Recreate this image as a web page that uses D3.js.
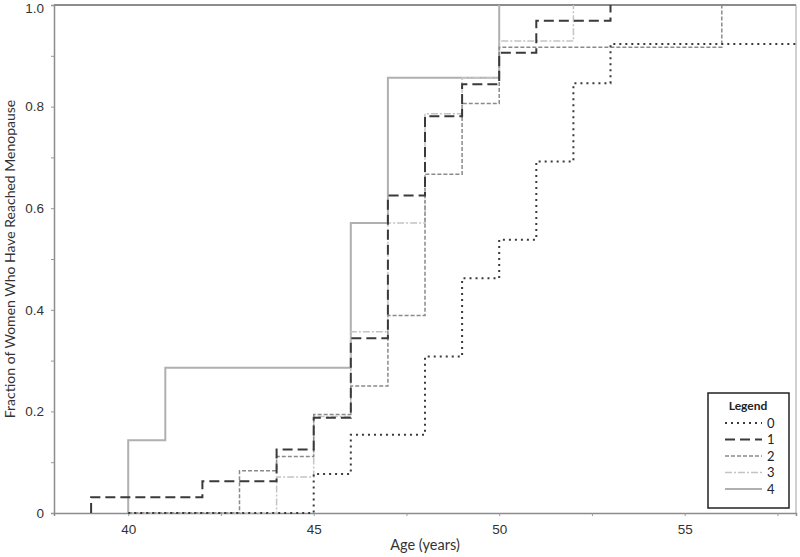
<!DOCTYPE html>
<html>
<head>
<meta charset="utf-8">
<script src="https://cdn.jsdelivr.net/npm/d3@7"></script>
<style>
body { margin: 0; background: #fff; }
svg { font-family: Lato, "Open Sans", sans-serif; }
</style>
</head>
<body>
<div id="chart"></div>
<script>
// step data: age at each step, fraction reached after it
var groups = ["0", "1", "2", "3", "4"];
var ages0 = [40, 45, 46, 48, 49, 50, 51, 52, 53, 58];
var vals0 = [0, 0.077, 0.154, 0.308, 0.462, 0.538, 0.692, 0.846, 0.923, 0.923];
var ages1 = [39, 39, 42, 44, 45, 46, 47, 48, 49, 50, 51, 53];
var vals1 = [0, 0.031, 0.0625, 0.125, 0.1875, 0.344, 0.625, 0.781, 0.844, 0.906, 0.969, 1.0];
var ages2 = [40, 43, 44, 45, 46, 47, 48, 49, 50, 56];
var vals2 = [0, 0.083, 0.111, 0.194, 0.25, 0.389, 0.667, 0.806, 0.917, 1.0];
var ages3 = [40, 44, 45, 46, 47, 48, 49, 50, 52];
var vals3 = [0, 0.071, 0.19, 0.357, 0.571, 0.786, 0.857, 0.929, 1.0];
var ages4 = [40, 40, 41, 46, 47, 50];
var vals4 = [0, 0.143, 0.286, 0.571, 0.857, 1.0];
var xLabels = [40, 45, 50, 55];
var yLabels = [0, 0.2, 0.4, 0.6, 0.8, 1.0];

var allAges = [ages0, ages1, ages2, ages3, ages4];
var allVals = [vals0, vals1, vals2, vals3, vals4];

var W = 800, H = 557;
var margin = {top: 5, right: 4, bottom: 44, left: 54};
var width = W - margin.left - margin.right;
var height = H - margin.top - margin.bottom;

var svg = d3.select("#chart").append("svg").attr("width", W).attr("height", H);
var g = svg.append("g").attr("transform", "translate(" + margin.left + "," + margin.top + ")");

var x = d3.scaleLinear().domain([38, 58]).range([0, width]);
var y = d3.scaleLinear().domain([0, 1]).range([height, 0]);

var styles = [
  {color: "#3a3a3a", dash: "2,4", w: 2},
  {color: "#3a3a3a", dash: "10,5", w: 2},
  {color: "#8a8a8a", dash: "4,2", w: 1.5},
  {color: "#c4c4c4", dash: "7,2,2,2", w: 1.5},
  {color: "#b0b0b0", dash: null, w: 2}
];

// frame (top / right)
g.append("line").attr("x1", 0).attr("x2", width).attr("y1", 0).attr("y2", 0)
  .attr("stroke", "#8c8c8c").attr("stroke-width", 2);
g.append("line").attr("x1", width).attr("x2", width).attr("y1", 0).attr("y2", height)
  .attr("stroke", "#a0a0a0").attr("stroke-width", 1);

// axes
var xAxis = g.append("g").attr("transform", "translate(0," + height + ")")
  .call(d3.axisBottom(x).tickValues(d3.range(40, 58.1, 2.5)).tickSize(3)
    .tickFormat(function(d) { return xLabels.indexOf(d) >= 0 ? d : ""; }));
var yAxis = g.append("g")
  .call(d3.axisLeft(y).tickValues(d3.range(0, 1.01, 0.1)).tickSize(3)
    .tickFormat(function(d) {
      var r = Math.round(d * 10) / 10;
      if (!yLabels.some(function(v) { return Math.abs(v - r) < 1e-6; })) return "";
      return r === 0 ? "0" : r.toFixed(1);
    }));
[xAxis, yAxis].forEach(function(a) {
  a.select(".domain").attr("stroke", "#8c8c8c").attr("stroke-width", 1.5);
  a.selectAll(".tick line").attr("stroke", "#999");
  a.selectAll(".tick text").attr("fill", "#333").style("font-size", "13.5px");
});
xAxis.selectAll(".tick text").attr("dy", "1.1em");
yAxis.selectAll(".tick text").attr("dx", "-0.3em")
  .attr("dy", function(d) { return d > 0.95 ? "0.55em" : "0.32em"; });

// axis titles
svg.append("text").attr("x", margin.left + width / 2).attr("y", 550)
  .attr("text-anchor", "middle").attr("fill", "#333").style("font-size", "14.5px").text("Age (years)");
svg.append("text").attr("transform", "translate(15," + (margin.top + height / 2) + ") rotate(-90)")
  .attr("text-anchor", "middle").attr("fill", "#333").style("font-size", "14px")
  .text("Fraction of Women Who Have Reached Menopause");

// step curves
var line = d3.line().curve(d3.curveStepAfter)
  .x(function(d) { return x(d[0]); }).y(function(d) { return y(d[1]); });
var order = [4, 3, 2, 0, 1];
order.forEach(function(i) {
  var pts = allAges[i].map(function(a, j) { return [a, allVals[i][j]]; });
  g.append("path").datum(pts).attr("d", line).attr("fill", "none")
    .attr("stroke", styles[i].color).attr("stroke-width", styles[i].w)
    .attr("stroke-dasharray", styles[i].dash);
});

// legend
var lg = svg.append("g").attr("transform", "translate(708,393)");
lg.append("rect").attr("width", 81).attr("height", 115).attr("fill", "#fff")
  .attr("stroke", "#222").attr("stroke-width", 1.5);
lg.append("text").attr("x", 40).attr("y", 17).attr("text-anchor", "middle")
  .style("font-size", "12px").style("font-weight", "bold").attr("fill", "#222").text("Legend");
var item = lg.selectAll(".item").data(groups).enter().append("g")
  .attr("transform", function(d, i) { return "translate(0," + (30 + i * 16.5) + ")"; });
item.append("line").attr("x1", 17).attr("x2", 54).attr("y1", 0).attr("y2", 0)
  .attr("stroke", function(d, i) { return styles[i].color; })
  .attr("stroke-width", function(d, i) { return styles[i].w; })
  .attr("stroke-dasharray", function(d, i) { return styles[i].dash; });
item.append("text").attr("x", 59).attr("y", 0).attr("dy", "0.35em")
  .style("font-size", "13px").attr("fill", "#222").text(function(d) { return d; });
</script>
</body>
</html>
